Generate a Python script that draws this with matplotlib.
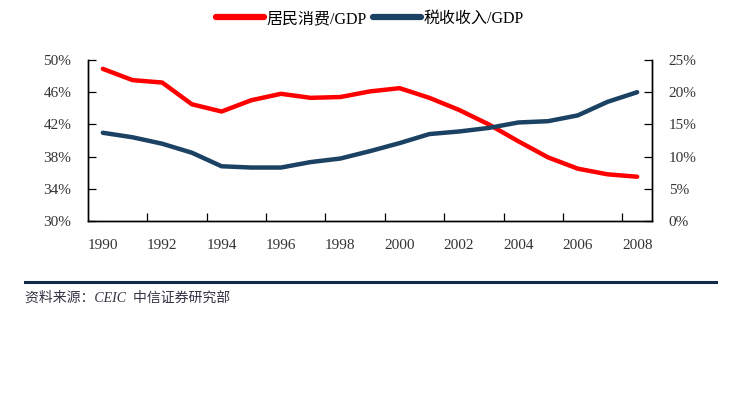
import numpy as np
import matplotlib.pyplot as plt
from matplotlib.ticker import FuncFormatter, FixedLocator

plt.rcParams['font.family'] = ['Liberation Serif', 'Noto Sans CJK SC']

years = list(range(1990, 2009))
consumption = [48.9, 47.5, 47.2, 44.5, 43.6, 45.0, 45.8, 45.3, 45.4, 46.1,
               46.5, 45.3, 43.8, 42.0, 39.9, 37.9, 36.5, 35.8, 35.5]   # 居民消费/GDP, left axis
tax = [13.7, 13.0, 12.0, 10.6, 8.5, 8.3, 8.3, 9.15, 9.7, 10.85,
       12.1, 13.5, 13.9, 14.45, 15.3, 15.5, 16.4, 18.5, 20.0]        # 税收收入/GDP, right axis
names = ['居民消费/GDP', '税收收入/GDP']
source = '资料来源：CEIC  中信证券研究部'

red = '#ff0000'
navy = '#1b4263'

fig = plt.figure(figsize=(7.3, 4), dpi=100)
ax = fig.add_axes([88/730, 1 - 221/400, (652 - 88)/730, (221 - 60)/400])
ax2 = ax.twinx()

x = np.arange(len(years))
l1, = ax.plot(x, consumption, color=red, lw=3.2, solid_capstyle='round', label=names[0])
l2, = ax2.plot(x, tax, color=navy, lw=3.2, solid_capstyle='round', label=names[1])

ax.set_xlim(-0.5, len(years) - 0.5)
ax.set_ylim(30, 50)
ax2.set_ylim(0, 25)
ax.set_yticks(np.arange(30, 51, 4))
ax2.set_yticks(np.arange(0, 26, 5))
ax.yaxis.set_major_formatter(FuncFormatter(lambda v, p: f'{v:.0f}%'))
ax2.yaxis.set_major_formatter(FuncFormatter(lambda v, p: f'{v:.0f}%'))

# category axis: ticks between every second category, labels at centres
ax.xaxis.set_major_locator(FixedLocator(np.arange(1.5, len(years) - 1, 2)))
ax.xaxis.set_major_formatter(FuncFormatter(lambda v, p: ''))
ax.xaxis.set_minor_locator(FixedLocator(np.arange(0, len(years), 2)))
ax.set_xticklabels([str(y) for y in years[::2]], minor=True)
ax.tick_params(axis='x', which='minor', length=0, pad=13, labelsize=11, labelcolor='#333333')
ax.tick_params(axis='x', which='major', direction='in', length=6, width=0.9)
ax.tick_params(axis='y', direction='in', length=6, width=0.9, labelsize=11, pad=12, labelcolor='#333333')
ax2.tick_params(axis='y', direction='in', length=6, width=0.9, labelsize=11, pad=12, labelcolor='#333333')

for a in (ax, ax2):
    a.spines['top'].set_visible(False)
    for s in ('left', 'right', 'bottom'):
        a.spines[s].set_linewidth(1.0)
        a.spines[s].set_color('black')

leg = fig.legend(handles=[l1, l2], loc='center', bbox_to_anchor=(370/730, 1 - 19/400), ncol=2,
                 frameon=False, fontsize=11.5, handlelength=3.0, handletextpad=0.15,
                 columnspacing=0.4)
for h in leg.get_lines():
    h.set_linewidth(4.5)

fig.add_artist(plt.Line2D([25/730, 716/730], [1 - 282/400, 1 - 282/400],
                          color='#12294a', lw=2.2, transform=fig.transFigure))
fig.text(25/730, 1 - 298/400, source, fontsize=10, style='italic', color='#333344',
         va='center', ha='left')

fig.savefig('out.png', dpi=100)
